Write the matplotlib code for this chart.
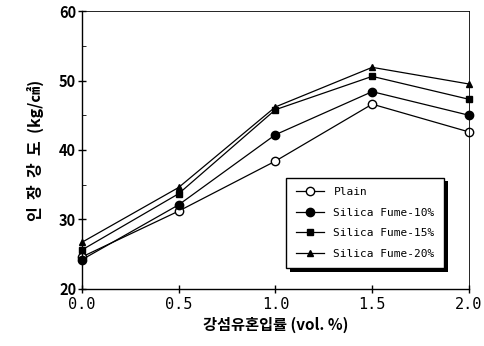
import matplotlib
matplotlib.use('Agg')
import matplotlib.pyplot as plt
import matplotlib.patheffects as pe
from matplotlib.ticker import MultipleLocator

###### dados ######
fibra = [0.0, 0.5, 1.0, 1.5, 2.0]
plain = [24.6, 31.2, 38.4, 46.6, 42.6]
sf10 = [24.2, 32.1, 42.2, 48.4, 45.0]
sf15 = [25.6, 33.7, 45.8, 50.6, 47.3]
sf20 = [26.7, 34.6, 46.2, 51.9, 49.5]
nomes = ['Plain', 'Silica Fume-10%', 'Silica Fume-15%', 'Silica Fume-20%']

plt.rcParams['font.family'] = ['Noto Sans CJK KR', 'DejaVu Sans']

fig = plt.figure(figsize=(4.84, 3.46), dpi=100)
ax = fig.add_axes([0.169, 0.165, 0.800, 0.803])

ax.plot(fibra, plain, '-o', color='black', lw=0.9, ms=6, mfc='white', mew=1.0, label=nomes[0], clip_on=False)
ax.plot(fibra, sf10, '-o', color='black', lw=0.9, ms=6, label=nomes[1], clip_on=False)
ax.plot(fibra, sf15, '-s', color='black', lw=0.9, ms=4, label=nomes[2], clip_on=False)
ax.plot(fibra, sf20, '-^', color='black', lw=0.9, ms=5, label=nomes[3], clip_on=False)

ax.set_xlim(0, 2.0)
ax.set_ylim(20, 60)
ax.set_xticks(fibra)
ax.set_xticklabels(['0.0', '0.5', '1.0', '1.5', '2.0'], family='DejaVu Sans Mono', fontsize=11)
ax.yaxis.set_major_locator(MultipleLocator(10))
ax.yaxis.set_minor_locator(MultipleLocator(5))
for t in ax.get_yticklabels():
    t.set_fontweight('bold')
    t.set_fontsize(10.5)
ax.tick_params(direction='inout', length=6, width=1, pad=1)
ax.tick_params(axis='x', pad=3)
ax.tick_params(which='minor', direction='in', length=3)
for s in ax.spines.values():
    s.set_linewidth(1.0)
ax.spines['top'].set_linewidth(0.6)
ax.spines['right'].set_linewidth(0.6)

ax.set_xlabel('강섬유혼입률 (vol. %)', fontsize=11, fontweight='bold', labelpad=3)
ax.set_ylabel('인  장  강  도  (kg/㎠)', fontsize=11.5, fontweight='bold', labelpad=11)

leg = ax.legend(loc='lower right', bbox_to_anchor=(0.95, 0.055), frameon=True, fancybox=False,
                edgecolor='black', framealpha=1.0, handlelength=2.6, labelspacing=0.95,
                borderpad=0.85, prop={'family': 'DejaVu Sans Mono', 'size': 8})
leg.get_frame().set_linewidth(1.0)
leg.get_frame().set_facecolor('white')
leg.get_frame().set_path_effects([pe.SimplePatchShadow(offset=(2.5, -2.5), shadow_rgbFace='black', alpha=1.0), pe.Normal()])

fig.savefig('out.png', dpi=100)
